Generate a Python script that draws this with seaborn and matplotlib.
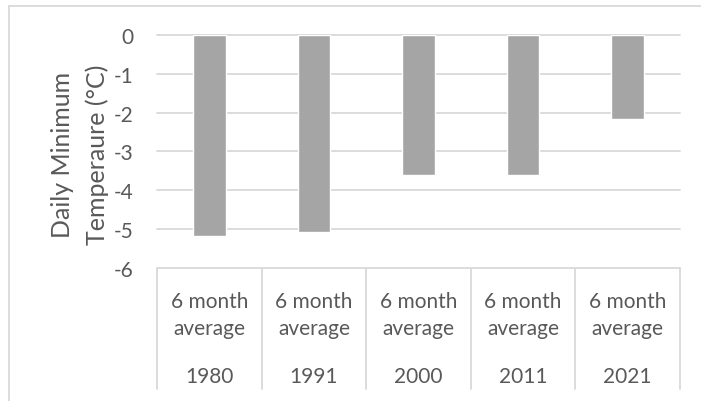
import matplotlib
matplotlib.use("Agg")
import matplotlib.pyplot as plt
import seaborn as sns
import pandas as pd
from matplotlib.lines import Line2D

# Data
years = ["1980", "1991", "2000", "2011", "2021"]
period = ["6 month\naverage"] * 5
min_temp = [-5.17, -5.07, -3.62, -3.60, -2.16]
y_ticks = [0, -1, -2, -3, -4, -5, -6]

df = pd.DataFrame({"year": years, "temp": min_temp})

sns.set_theme(style="white")
plt.rcParams["font.family"] = ["Lato", "DejaVu Sans"]

W, H = 701, 402
fig = plt.figure(figsize=(W / 100, H / 100), dpi=100)
fig.patch.set_facecolor("white")

left_px, right_px, top_px, bot_px = 157, 680, 36, 268.8
ax = fig.add_axes([left_px / W, 1 - bot_px / H,
                   (right_px - left_px) / W, (bot_px - top_px) / H])

grid_c = "#d9d9d9"
text_c = "#595959"
fs = 15

sns.barplot(data=df, x="year", y="temp", color="#a5a5a5", width=0.31,
            saturation=1, ax=ax, zorder=3)

ax.set_ylim(-6, 0)
ax.set_xlim(-0.5, len(years) - 0.5)
for s in ax.spines.values():
    s.set_visible(False)

# horizontal gridlines
for t in y_ticks:
    ax.axhline(t, color=grid_c, lw=1.3, zorder=1, clip_on=False)

ax.set_yticks(y_ticks)
ax.set_yticklabels([str(t) for t in y_ticks], color=text_c, fontsize=fs)
ax.tick_params(axis="y", length=0, pad=17)
ax.set_xticks([])
ax.set_xlabel("")
ax.set_ylabel("Daily Minimum\nTemperaure (°C)", color=text_c, fontsize=18,
              linespacing=1.55, va="center", ha="center")
ax.yaxis.set_label_coords((80 - left_px) / (right_px - left_px), 0.49)

# two-level category axis
xt = ax.get_xaxis_transform()
ax_h = bot_px - top_px
def yfrac(px):
    return -(px - bot_px) / ax_h

for i in range(len(years) + 1):
    ax.add_line(Line2D([i - 0.5, i - 0.5], [0, yfrac(390)], transform=xt,
                       color=grid_c, lw=1.3, clip_on=False))
for i, (p, y) in enumerate(zip(period, years)):
    for line, base in zip(p.split("\n"), [308, 335]):
        ax.text(i, yfrac(base), line, transform=xt, ha="center",
                va="baseline", color=text_c, fontsize=fs)
    ax.text(i, yfrac(383), y, transform=xt, ha="center", va="baseline",
            color=text_c, fontsize=fs)

# chart area border
fig.add_artist(Line2D([8.5 / W, 8.5 / W], [0, 1 - 7 / H],
                      transform=fig.transFigure, color=grid_c, lw=1.3))
fig.add_artist(Line2D([8.5 / W, 1], [1 - 7 / H, 1 - 7 / H],
                      transform=fig.transFigure, color=grid_c, lw=1.3))

fig.savefig("out.png", dpi=100, facecolor="white")
